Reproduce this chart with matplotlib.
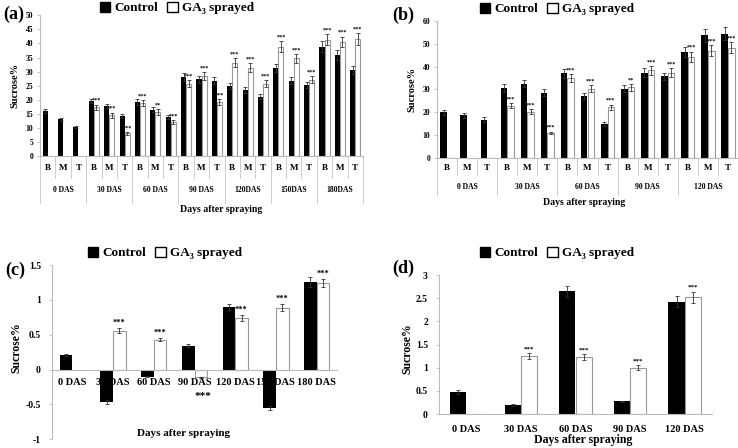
import numpy as np
import matplotlib
matplotlib.use('Agg')
import matplotlib.pyplot as plt
from matplotlib.patches import Patch

plt.rcParams['font.family'] = ['Liberation Serif', 'DejaVu Serif']
plt.rcParams['font.weight'] = 'bold'
plt.rcParams['axes.labelweight'] = 'bold'

nan = np.nan
parts = ['B', 'M', 'T']

# (a)
a_groups = ['0 DAS', '30 DAS', '60 DAS', '90 DAS', '120DAS', '150DAS', '180DAS']
a_ctrl = [16.0, 13.0, 10.2, 19.5, 17.8, 14.2, 19.2, 16.4, 13.8, 28.0, 27.2, 26.8,
          24.8, 23.5, 21.0, 31.2, 26.8, 25.2, 38.9, 35.8, 30.6]
a_ctrl_err = [0.7, 0.5, 0.4, 0.7, 0.8, 0.6, 1.0, 0.9, 0.6, 1.4, 1.2, 1.2,
              1.1, 1.1, 0.9, 1.4, 1.2, 1.1, 1.8, 1.7, 1.5]
a_ga = [nan, nan, nan, 17.3, 14.5, 8.0, 18.9, 15.7, 12.1, 25.7, 28.4, 19.2,
        33.2, 31.4, 25.7, 38.8, 34.7, 27.1, 41.3, 40.5, 41.6]
a_ga_err = [0, 0, 0, 1.0, 0.9, 0.4, 1.0, 1.0, 0.6, 1.3, 1.4, 1.0,
            1.5, 1.5, 1.2, 1.9, 1.6, 1.3, 2.0, 1.9, 2.0]
a_stars = ['', '', '', '***', '***', '***', '***', '**', '***', '***', '***', '***',
           '***', '***', '***', '***', '***', '***', '***', '***', '***']

# (b)
b_groups = ['0 DAS', '30 DAS', '60 DAS', '90 DAS', '120 DAS']
b_ctrl = [20.0, 18.7, 16.9, 30.8, 32.6, 28.6, 37.0, 27.1, 14.8, 30.3, 37.4, 35.7,
          46.3, 53.6, 54.3]
b_ctrl_err = [1.2, 1.0, 1.0, 1.7, 1.7, 1.5, 1.8, 1.4, 0.9, 1.5, 1.8, 1.7, 2.3, 2.8, 2.8]
b_ga = [nan, nan, nan, 23.0, 20.2, 11.0, 34.9, 30.4, 22.2, 31.0, 38.3, 37.4,
        44.3, 47.0, 48.3]
b_ga_err = [0, 0, 0, 1.2, 1.1, 0.6, 1.8, 1.6, 1.2, 1.5, 1.9, 1.8, 2.2, 2.4, 2.4]
b_stars = ['', '', '', '***', '***', '***', '***', '***', '***', '**', '***', '***',
           '***', '***', '***']

# (c)
c_groups = ['0 DAS', '30 DAS', '60 DAS', '90 DAS', '120 DAS', '150 DAS', '180 DAS']
c_ctrl = [0.21, -0.47, -0.10, 0.34, 0.90, -0.55, 1.26]
c_ctrl_err = [0.02, 0.03, 0.01, 0.02, 0.04, 0.03, 0.07]
c_ga = [nan, 0.56, 0.43, -0.11, 0.74, 0.89, 1.24]
c_ga_err = [0, 0.03, 0.02, 0.01, 0.04, 0.05, 0.06]
c_stars = ['', '***', '***', '***', '***', '***', '***']

# (d)
d_groups = ['0 DAS', '30 DAS', '60 DAS', '90 DAS', '120 DAS']
d_ctrl = [0.47, 0.20, 2.65, 0.27, 2.42]
d_ctrl_err = [0.04, 0.02, 0.12, 0.02, 0.12]
d_ga = [nan, 1.25, 1.23, 1.00, 2.52]
d_ga_err = [0, 0.06, 0.06, 0.05, 0.12]
d_stars = ['', '***', '***', '***', '***']

fig = plt.figure(figsize=(7.38, 4.48), dpi=100)
W, H = 738, 448


def px_axes(l, t, r, b):
    return fig.add_axes([l / W, 1 - b / H, (r - l) / W, (b - t) / H])


def draw(ax, ctrl, ctrl_err, ga, ga_err, stars, w, off, star_fs, neg_off=0):
    x = np.arange(len(ctrl))
    ga = np.array(ga, dtype=float)
    ax.bar(x - w / 2, ctrl, w, color='black', zorder=2)
    ax.bar(x + w / 2, np.nan_to_num(ga), w, color='white', edgecolor='#999999',
           linewidth=0.8, zorder=2)
    ax.errorbar(x - w / 2, ctrl, yerr=ctrl_err, fmt='none', ecolor='#333333',
                elinewidth=0.6, capsize=1.5, capthick=0.6, zorder=3)
    m = ~np.isnan(ga)
    ax.errorbar((x + w / 2)[m], ga[m], yerr=np.array(ga_err)[m], fmt='none',
                ecolor='#333333', elinewidth=0.6, capsize=1.5, capthick=0.6, zorder=3)
    for i, s in enumerate(stars):
        if not s:
            continue
        if ga[i] >= 0:
            ax.text(x[i] + w / 2, ga[i] + ga_err[i] + off, s, ha='center',
                    va='bottom', fontsize=star_fs)
        else:
            ax.text(x[i] + w / 2 + 0.05, ga[i] - neg_off, s, ha='center',
                    va='center', fontsize=star_fs + 2)
    ax.set_xlim(-0.5, len(ctrl) - 0.5)
    for sp in ['top', 'right']:
        ax.spines[sp].set_visible(False)
    for sp in ['left', 'bottom']:
        ax.spines[sp].set_color('#bbbbbb')
        ax.spines[sp].set_linewidth(0.8)
    ax.tick_params(axis='y', length=2, width=0.6, color='#bbbbbb', pad=3)
    ax.tick_params(axis='x', length=0)
    return x


def multilevel(ax, groups, n, sub_y, sep_short, grp_y, sep_long, fs):
    tr = ax.get_xaxis_transform()
    ax.set_xticks([])
    for i in range(n * len(groups)):
        ax.text(i, sub_y, parts[i % n], transform=tr, ha='center', va='center',
                fontsize=fs + 1)
    for k in range(n * len(groups) + 1):
        yb = sep_long if k % n == 0 else sep_short
        ax.plot([k - 0.5, k - 0.5], [0, yb], transform=tr, color='#cccccc',
                lw=0.7, clip_on=False)
    for g, name in enumerate(groups):
        ax.text(g * n + (n - 1) / 2, grp_y, name, transform=tr, ha='center',
                va='center', fontsize=fs)


handles = [Patch(facecolor='black', edgecolor='black'),
           Patch(facecolor='white', edgecolor='black')]
leg_labels = ['Control', 'GA\u2083 sprayed']


def legend(cx, cy):
    fig.legend(handles, leg_labels, loc='center', bbox_to_anchor=(cx / W, 1 - cy / H),
               ncol=2, frameon=False, fontsize=9.5, handlelength=0.8,
               handleheight=0.8, handletextpad=0.3, columnspacing=0.7)


# panel a
ax_a = px_axes(40, 15.3, 363, 156)
draw(ax_a, a_ctrl, a_ctrl_err, a_ga, a_ga_err, a_stars, 0.33, 0.6, 4.5)
ax_a.set_ylim(0, 50)
ax_a.set_yticks(np.arange(0, 51, 5))
ax_a.tick_params(axis='y', labelsize=5.5)
multilevel(ax_a, a_groups, 3, -0.085, -0.156, -0.24, -0.334, 5.5)
ax_a.set_ylabel('Sucrose%', fontsize=7.5)
ax_a.yaxis.set_label_coords(-0.065, 0.5)
ax_a.text(0.56, -0.377, 'Days after spraying', transform=ax_a.transAxes,
          ha='center', va='center', fontsize=7)
legend(177, 8)
fig.text(3 / W, 1 - 14 / H, '(a)', fontsize=13, va='center', ha='left')

# panel b
ax_b = px_axes(437, 20.7, 738, 158.3)
draw(ax_b, b_ctrl, b_ctrl_err, b_ga, b_ga_err, b_stars, 0.33, 0.7, 4.5)
ax_b.set_ylim(0, 60)
ax_b.set_yticks(np.arange(0, 61, 10))
ax_b.tick_params(axis='y', labelsize=5.5)
multilevel(ax_b, b_groups, 3, -0.07, -0.12, -0.21, -0.27, 5.5)
ax_b.set_ylabel('Sucrose%', fontsize=7.5)
ax_b.yaxis.set_label_coords(-0.067, 0.5)
ax_b.text(0.49, -0.32, 'Days after spraying', transform=ax_b.transAxes,
          ha='center', va='center', fontsize=7)
legend(557, 9)
fig.text(392 / W, 1 - 15 / H, '(b)', fontsize=13, va='center', ha='left')

# panel c
ax_c = px_axes(52, 265, 337, 439.3)
xc = draw(ax_c, c_ctrl, c_ctrl_err, c_ga, c_ga_err, c_stars, 0.31, 0.02, 6, 0.27)
ax_c.set_ylim(-1, 1.5)
ax_c.set_yticks([-1, -0.5, 0, 0.5, 1, 1.5])
ax_c.set_yticklabels(['-1', '-0.5', '0', '0.5', '1', '1.5'])
ax_c.tick_params(axis='y', labelsize=7, pad=6)
ax_c.spines['bottom'].set_position(('data', 0))
ax_c.set_xticks(xc)
ax_c.set_xticklabels(c_groups, fontsize=7.5)
ax_c.tick_params(axis='x', pad=6)
ax_c.set_ylabel('Sucrose%', fontsize=8.5)
ax_c.yaxis.set_label_coords(-0.105, 0.524)
ax_c.text(0.46, 0.036, 'Days after spraying', transform=ax_c.transAxes,
          ha='center', va='center', fontsize=8)
legend(165, 253)
fig.text(5 / W, 1 - 270 / H, '(c)', fontsize=13, va='center', ha='left')

# panel d
ax_d = px_axes(439, 275, 712, 414)
xd = draw(ax_d, d_ctrl, d_ctrl_err, d_ga, d_ga_err, d_stars, 0.3, 0.04, 5)
ax_d.set_ylim(0, 3)
ax_d.set_yticks(np.arange(0, 3.01, 0.5))
ax_d.set_yticklabels(['0', '0.5', '1', '1.5', '2', '2.5', '3'])
ax_d.tick_params(axis='y', labelsize=7, pad=6)
ax_d.set_xticks(xd)
ax_d.set_xticklabels(d_groups, fontsize=7.5)
ax_d.tick_params(axis='x', pad=8)
ax_d.set_ylabel('Sucrose%', fontsize=8.5)
ax_d.yaxis.set_label_coords(-0.095, 0.47)
ax_d.text(0.528, -0.187, 'Days after spraying', transform=ax_d.transAxes,
          ha='center', va='center', fontsize=8.5)
legend(557, 253)
fig.text(392 / W, 1 - 268 / H, '(d)', fontsize=13, va='center', ha='left')

fig.savefig('out.png', dpi=100)
